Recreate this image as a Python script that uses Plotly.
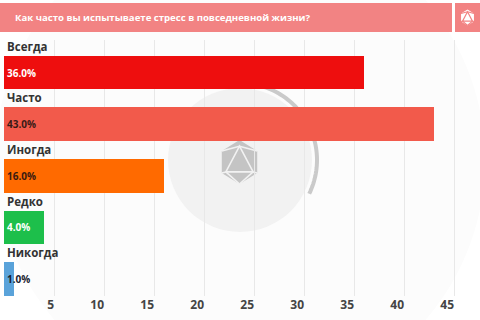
import math
import plotly.graph_objects as go

# ---- data ----
categories = ["Всегда", "Часто", "Иногда", "Редко", "Никогда"]
values = [36.0, 43.0, 16.0, 4.0, 1.0]
bar_colors = ["#EE0E0E", "#F25A4B", "#FF6A00", "#1DBF4B", "#5AA3DA"]
label_colors = ["#FFFFFF", "#3A1A16", "#3A1A10", "#FFFFFF", "#1A2230"]
tick_values = [5, 10, 15, 20, 25, 30, 35, 40, 45]
title_text = "Как часто вы испытываете стресс в повседневной жизни?"

W, H = 480, 320
ML, MR, MT, MB = 4, 10, 40, 24
PW, PH = W - ML - MR, H - MT - MB


def px(x):
    return (x - ML) / PW


def py(y):
    return (H - MB - y) / PH


def rect(x0, y0, x1, y1, color, layer="below"):
    return dict(type="rect", xref="paper", yref="paper",
                x0=px(x0), x1=px(x1), y0=py(y1), y1=py(y0),
                fillcolor=color, line=dict(width=0), layer=layer)


def circle(cx, cy, r, color):
    return dict(type="circle", xref="paper", yref="paper",
                x0=px(cx - r), x1=px(cx + r), y0=py(cy + r), y1=py(cy - r),
                fillcolor=color, line=dict(width=0), layer="below")


def path_from(points, close=False):
    s = "M " + " L ".join(f"{px(x):.5f},{py(y):.5f}" for x, y in points)
    return s + (" Z" if close else "")


def icon_shapes(cx, cy, r, fill, linec, lw):
    shapes = []
    hexp = [(cx + r * 0.93 * math.sin(math.radians(a)), cy - r * math.cos(math.radians(a)))
            for a in range(0, 360, 60)]
    shapes.append(dict(type="path", xref="paper", yref="paper", path=path_from(hexp, True),
                       fillcolor=fill, line=dict(width=0), layer="below"))
    tri = [(cx, cy - r * 0.72), (cx + r * 0.62, cy + r * 0.45), (cx - r * 0.62, cy + r * 0.45)]
    shapes.append(dict(type="path", xref="paper", yref="paper", path=path_from(tri, True),
                       line=dict(color=linec, width=lw), layer="below"))
    for a, b in [(tri[0], hexp[5]), (tri[0], hexp[1]), (tri[1], hexp[2]), (tri[1], hexp[3]),
                 (tri[2], hexp[3]), (tri[2], hexp[4])]:
        shapes.append(dict(type="path", xref="paper", yref="paper", path=path_from([a, b]),
                           line=dict(color=linec, width=lw), layer="below"))
    return shapes


ys = list(range(len(categories)))

fig = go.Figure(go.Bar(
    x=values, y=ys, orientation="h", width=0.65,
    marker=dict(color=bar_colors, line=dict(width=0)),
    hoverinfo="skip",
))

shapes = []
# watermark
shapes.append(circle(240, 160, 245, "#FCFCFC"))
shapes.append(circle(240, 160, 72, "#F2F2F2"))
arc = [(240 + 77 * math.sin(math.radians(t)), 160 - 77 * math.cos(math.radians(t)))
       for t in range(0, 118, 2)]
shapes.append(dict(type="path", xref="paper", yref="paper", path=path_from(arc),
                   line=dict(color="#CACACA", width=4), layer="below"))
shapes += icon_shapes(239.5, 162, 22, "#C4C4C4", "#F2F2F2", 1.6)
# header
shapes.append(rect(0, 3, 452, 32, "#F28383", layer="above"))
shapes.append(rect(455, 3, 480, 32, "#F28383", layer="above"))
hdr_icon = icon_shapes(467.5, 17.5, 8, "#FFFFFF", "#F28383", 1.2)
for s in hdr_icon:
    s["layer"] = "above"
shapes += hdr_icon

annotations = [dict(text=f"<b>{title_text}</b>", xref="paper", yref="paper",
                    x=px(13), y=py(17.5), xanchor="left", yanchor="middle",
                    showarrow=False, font=dict(color="#FFFFFF", size=9.6, family="Open Sans"))]
for i, (cat, v, lc) in enumerate(zip(categories, values, label_colors)):
    annotations.append(dict(text=f"<b>{cat}</b>", x=0, y=i - 0.325, xref="x", yref="y",
                            xanchor="left", yanchor="bottom", xshift=1, yshift=0,
                            showarrow=False,
                            font=dict(color="#333333", size=11.5, family="Open Sans")))
    annotations.append(dict(text=f"<b>{v:.1f}%</b>", x=0, y=i, xref="x", yref="y",
                            xanchor="left", yanchor="middle", xshift=1,
                            showarrow=False,
                            font=dict(color=lc, size=10, family="Open Sans")))

fig.update_layout(
    width=W, height=H,
    margin=dict(l=ML, r=MR, t=MT, b=MB, pad=0),
    paper_bgcolor="#FFFFFF", plot_bgcolor="rgba(0,0,0,0)",
    showlegend=False, bargap=0,
    shapes=shapes, annotations=annotations,
    xaxis=dict(range=[0, 46.6], tickvals=tick_values, showgrid=True,
               gridcolor="#E8E8E8", gridwidth=1, zeroline=False, showline=False,
               ticks="", ticklabelposition="outside left",
               tickfont=dict(color="#444444", size=12, family="Open Sans", weight="bold")),
    yaxis=dict(range=[4.33, -0.63], showgrid=False, zeroline=False,
               showticklabels=False, showline=False),
    font=dict(family="Open Sans"),
)

fig.write_html("out.html")
